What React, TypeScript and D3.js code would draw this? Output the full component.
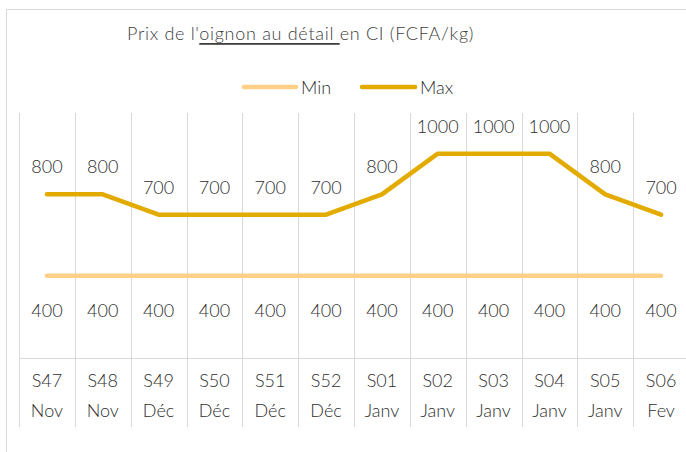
import React, { useEffect, useRef } from 'react';
import * as d3 from 'd3';

const weeks = ['S47', 'S48', 'S49', 'S50', 'S51', 'S52', 'S01', 'S02', 'S03', 'S04', 'S05', 'S06'];
const months = ['Nov', 'Nov', 'Déc', 'Déc', 'Déc', 'Déc', 'Janv', 'Janv', 'Janv', 'Janv', 'Janv', 'Fev'];
const minValues = [400, 400, 400, 400, 400, 400, 400, 400, 400, 400, 400, 400];
const maxValues = [800, 800, 700, 700, 700, 700, 800, 1000, 1000, 1000, 800, 700];

const MIN_COLOR = '#FFD086';
const MAX_COLOR = '#E3AA00';
const GRID = '#d9d9d9';
const TEXT = '#2e2e2e';
const FONT = 'Lato, "Open Sans", sans-serif';
const FS = 18;

function App() {
  const ref = useRef(null);

  useEffect(() => {
    if (!ref.current) return;
    const width = 686;
    const height = 452;

    d3.select(ref.current).select('svg').remove();

    const svg = d3.select(ref.current)
      .append('svg')
      .attr('width', width)
      .attr('height', height)
      .style('position', 'absolute')
      .style('left', 0)
      .style('top', 0)
      .style('font-family', FONT)
      .style('font-weight', 300);

    svg.append('rect').attr('width', width).attr('height', height).attr('fill', '#fff');

    // chart border
    svg.append('rect')
      .attr('x', 6.5).attr('y', 9.5)
      .attr('width', 700).attr('height', 460)
      .attr('fill', 'none').attr('stroke', GRID);

    const x = d3.scaleBand().domain(weeks).range([19, 689]);
    const y = d3.scaleLinear().domain([0, 1200]).range([357, 113]);
    const cx = (d) => x(d) + x.bandwidth() / 2;

    // vertical separators (plot + category axis)
    weeks.forEach((w) => {
      const xx = Math.round(x(w)) + 0.5;
      svg.append('line')
        .attr('x1', xx).attr('x2', xx)
        .attr('y1', y(1200)).attr('y2', 427)
        .attr('stroke', GRID).attr('stroke-width', 1);
    });

    // horizontal axis line
    svg.append('line')
      .attr('x1', 19).attr('x2', 689)
      .attr('y1', 358.5).attr('y2', 358.5)
      .attr('stroke', GRID);

    // category labels
    weeks.forEach((w, i) => {
      svg.append('text').attr('x', cx(w)).attr('y', 380)
        .attr('text-anchor', 'middle').attr('dominant-baseline', 'central')
        .attr('font-size', FS).attr('fill', TEXT).text(w);
      svg.append('text').attr('x', cx(w)).attr('y', 410)
        .attr('text-anchor', 'middle').attr('dominant-baseline', 'central')
        .attr('font-size', FS).attr('fill', TEXT).text(months[i]);
    });

    const line = d3.line().x((d) => cx(d[0])).y((d) => y(d[1]));

    svg.append('path')
      .datum(weeks.map((w, i) => [w, minValues[i]]))
      .attr('d', line)
      .attr('fill', 'none').attr('stroke', MIN_COLOR)
      .attr('stroke-width', 4.5).attr('stroke-linecap', 'round').attr('stroke-linejoin', 'round');

    svg.append('path')
      .datum(weeks.map((w, i) => [w, maxValues[i]]))
      .attr('d', line)
      .attr('fill', 'none').attr('stroke', MAX_COLOR)
      .attr('stroke-width', 4.5).attr('stroke-linecap', 'round').attr('stroke-linejoin', 'round');

    // data labels
    weeks.forEach((w, i) => {
      svg.append('text').attr('x', cx(w)).attr('y', y(maxValues[i]) - 28)
        .attr('text-anchor', 'middle').attr('dominant-baseline', 'central')
        .attr('font-size', FS).attr('fill', TEXT).text(maxValues[i]);
      svg.append('text').attr('x', cx(w)).attr('y', y(minValues[i]) + 34)
        .attr('text-anchor', 'middle').attr('dominant-baseline', 'central')
        .attr('font-size', FS).attr('fill', TEXT).text(minValues[i]);
    });

    // title
    const title = svg.append('text')
      .attr('x', 127).attr('y', 33)
      .attr('dominant-baseline', 'central')
      .attr('font-size', FS).attr('letter-spacing', 0.7).attr('fill', '#404040');
    title.append('tspan').text("Prix de l'");
    title.append('tspan').style('text-decoration', 'underline').text('oignon au détail ');
    title.append('tspan').text('en CI (FCFA/kg)');

    // legend
    const legend = [
      { name: 'Min', color: MIN_COLOR, x1: 244, x2: 296, tx: 301 },
      { name: 'Max', color: MAX_COLOR, x1: 362, x2: 415, tx: 420 },
    ];
    legend.forEach((l) => {
      svg.append('line')
        .attr('x1', l.x1).attr('x2', l.x2).attr('y1', 87).attr('y2', 87)
        .attr('stroke', l.color).attr('stroke-width', 4.5).attr('stroke-linecap', 'round');
      svg.append('text').attr('x', l.tx).attr('y', 87)
        .attr('dominant-baseline', 'central')
        .attr('font-size', FS).attr('fill', TEXT).text(l.name);
    });
  }, []);

  return <div ref={ref} />;
}

export default App;
